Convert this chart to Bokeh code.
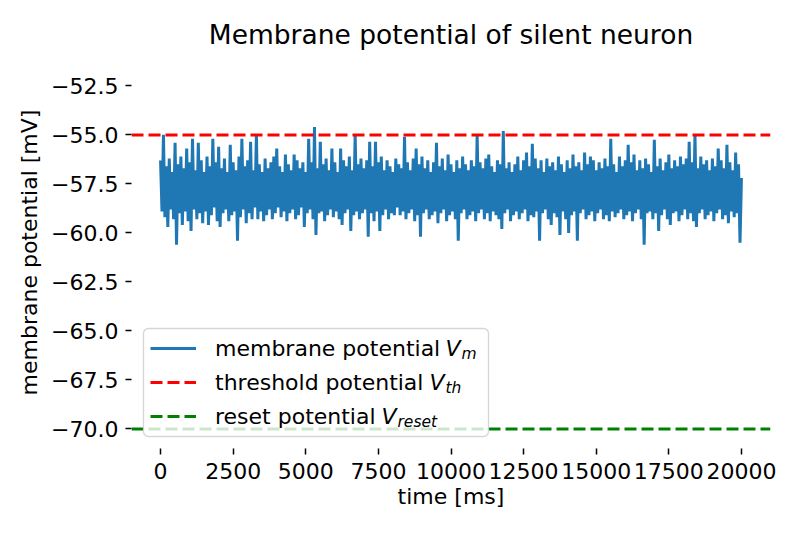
import numpy as np
from bokeh.plotting import figure
from bokeh.models import (Range1d, FixedTicker, CustomJSTickFormatter, Legend,
                          LegendItem, Label, BoxAnnotation)
from bokeh.embed import file_html
from bokeh.resources import INLINE

# ---------------- data ----------------
title_text = "Membrane potential of silent neuron"
x_label = "time [ms]"
y_label = "membrane potential [mV]"

dt_ms = 50  # spacing between consecutive read-off samples

# upper excursions of the trace (every 100 ms, t = 0 .. 20000)
v_high = [
    -56.3, -55.0, -56.6, -56.2, -56.9, -55.4, -56.5, -56.1, -56.7, -55.7,
    -56.4, -55.2, -56.8, -55.4, -56.3, -56.9, -56.1, -56.6, -55.2, -56.4,
    -55.6, -56.7, -56.2, -56.9, -55.5, -56.4, -56.8, -56.1, -55.2, -56.6,
    -56.3, -55.35, -56.8, -54.95, -56.5, -56.9, -56.2, -56.7, -56.4, -56.1,
    -55.7, -56.6, -56.9, -56.0, -56.5, -56.8, -56.0, -56.3, -56.7, -56.4,
    -56.9, -55.2, -56.4, -54.6, -56.7, -55.35, -56.5, -56.2, -56.8, -55.7,
    -56.4, -56.9, -55.7, -56.3, -56.6, -56.1, -56.8, -55.0, -56.5, -56.2,
    -56.7, -56.3, -55.35, -56.6, -55.35, -56.4, -56.1, -56.8, -56.3, -56.6,
    -56.9, -56.2, -56.5, -56.7, -55.1, -56.4, -56.8, -56.2, -55.7, -56.5,
    -56.1, -56.7, -56.3, -56.9, -56.4, -55.4, -56.6, -56.2, -56.8, -56.0,
    -56.5, -56.9, -56.3, -56.7, -56.1, -56.5, -56.8, -56.3, -56.6, -54.95,
    -56.4, -56.7, -56.2, -56.0, -56.6, -56.9, -56.3, -56.5, -54.8, -56.7,
    -56.4, -56.9, -56.5, -56.1, -56.8, -56.3, -55.9, -56.6, -55.45, -56.2,
    -56.7, -56.3, -56.9, -56.2, -56.6, -56.4, -56.8, -56.1, -56.5, -56.9,
    -56.3, -56.7, -56.0, -56.6, -56.4, -56.8, -55.9, -56.5, -56.1, -56.3,
    -56.8, -56.4, -56.7, -56.2, -56.6, -55.2, -56.5, -56.9, -56.1, -56.6,
    -56.3, -55.5, -56.4, -56.0, -56.8, -56.3, -56.7, -56.2, -56.5, -56.9,
    -55.25, -56.6, -56.2, -56.8, -56.4, -56.0, -56.7, -56.3, -56.6, -56.1,
    -56.5, -56.2, -55.35, -56.4, -54.95, -56.7, -56.1, -56.5, -56.3, -56.8,
    -56.2, -56.6, -55.7, -56.3, -56.7, -55.5, -56.4, -56.8, -55.9, -56.5,
    -57.2,
]

# lower excursions of the trace (every 100 ms, t = 50 .. 19950)
v_low = [
    -58.9, -59.2, -59.7, -58.8, -59.3, -60.6, -59.0, -59.6, -58.9, -59.4,
    -59.9, -58.8, -59.3, -59.0, -59.5, -58.9, -59.6, -59.1, -58.7, -59.4,
    -59.7, -59.0, -58.8, -59.4, -59.1, -58.9, -60.4, -59.2, -58.8, -59.5,
    -59.0, -59.3, -58.7, -59.3, -58.9, -59.4, -59.1, -58.8, -59.3, -59.0,
    -58.7, -59.2, -58.9, -59.4, -59.0, -58.8, -59.3, -59.1, -58.7, -59.7,
    -59.0, -58.8, -59.3, -60.1, -59.0, -58.9, -59.4, -59.1, -58.8, -59.2,
    -58.9, -59.3, -59.6, -59.0, -58.8, -59.9, -59.1, -58.9, -59.3, -59.0,
    -58.8, -60.2, -59.0, -59.4, -58.9, -59.9, -59.1, -58.8, -59.3, -59.0,
    -59.1, -58.7, -59.1, -58.9, -59.3, -59.0, -58.8, -59.4, -59.1, -60.2,
    -59.0, -58.8, -59.3, -59.1, -58.9, -59.5, -59.0, -58.8, -59.4, -59.1,
    -58.9, -59.3, -60.4, -59.0, -58.8, -59.3, -59.1, -58.9, -59.4, -59.0,
    -58.8, -59.3, -59.0, -59.4, -58.9, -59.1, -59.3, -59.8, -59.0, -58.8,
    -59.4, -59.1, -58.9, -59.3, -59.0, -58.8, -59.4, -59.1, -59.2, -58.9,
    -60.4, -59.0, -58.8, -59.3, -59.6, -59.0, -59.2, -60.1, -58.9, -59.3,
    -60.0, -59.1, -58.9, -60.4, -59.0, -58.8, -59.3, -59.1, -58.9, -59.4,
    -59.0, -58.8, -59.3, -59.1, -59.4, -58.9, -59.2, -59.0, -58.8, -59.3,
    -59.1, -58.9, -59.4, -59.0, -58.8, -59.3, -60.6, -59.0, -58.9, -59.3,
    -59.0, -59.9, -59.1, -58.8, -59.3, -59.6, -59.0, -58.9, -59.4, -59.1,
    -58.8, -59.3, -59.0, -59.4, -59.7, -59.0, -58.8, -59.3, -59.1, -58.9,
    -59.4, -59.0, -58.8, -59.3, -59.1, -59.5, -58.9, -59.2, -59.0, -60.5,
]

v_threshold = -55.0
v_reset = -70.0

x_ticks = [0, 2500, 5000, 7500, 10000, 12500, 15000, 17500, 20000]
y_ticks = [-70.0, -67.5, -65.0, -62.5, -60.0, -57.5, -55.0, -52.5]

legend_labels = ["membrane potential", "threshold potential", "reset potential"]
legend_subscripts = ["m", "th", "reset"]

# ---------------- build series ----------------
vm = []
for h, l in zip(v_high, v_low):
    vm += [h, l]
vm.append(v_high[-1])
t = [i * dt_ms for i in range(len(vm))]

FONT = "DejaVu Sans"
BLUE = "#1f77b4"
FS = "22px"

x_range = Range1d(-1000, 21000)
y_range = Range1d(-71.0, -51.0)

p = figure(width=792, height=525, output_backend="svg", toolbar_location=None,
           x_range=x_range, y_range=y_range, title=title_text,
           min_border_left=131, min_border_right=22,
           min_border_top=56, min_border_bottom=77)

p.background_fill_color = "white"
p.border_fill_color = "white"
p.outline_line_color = None
p.grid.visible = False

p.title.text_font = FONT
p.title.text_font_size = "26.5px"
p.title.text_font_style = "normal"
p.title.align = "center"
p.title.text_color = "black"
p.title.standoff = 13

for ax in (p.xaxis[0], p.yaxis[0]):
    ax.axis_line_color = None
    ax.major_tick_in = 0
    ax.major_tick_out = 6
    ax.major_tick_line_width = 1.5
    ax.major_tick_line_color = "black"
    ax.minor_tick_line_color = None
    ax.major_label_text_font = FONT
    ax.major_label_text_font_size = FS
    ax.major_label_text_color = "black"
    ax.axis_label_text_font = FONT
    ax.axis_label_text_font_size = FS
    ax.axis_label_text_font_style = "normal"
    ax.axis_label_text_color = "black"

p.xaxis.major_label_standoff = 8
p.yaxis.major_label_standoff = 7
p.xaxis.ticker = FixedTicker(ticks=x_ticks)
p.yaxis.ticker = FixedTicker(ticks=y_ticks)
p.xaxis.formatter = CustomJSTickFormatter(code="return tick.toFixed(0);")
p.yaxis.formatter = CustomJSTickFormatter(
    code="return tick.toFixed(1).replace('-', '\\u2212');")
p.xaxis.axis_label = x_label
p.yaxis.axis_label = y_label
p.xaxis.axis_label_standoff = 2
p.yaxis.axis_label_standoff = 6

r_vm = p.line(t, vm, line_color=BLUE, line_width=3.0)
span_x = [x_range.start, x_range.end]
r_th = p.line(span_x, [v_threshold, v_threshold], line_color="red",
              line_width=3.0, line_dash="12 5")
r_reset = p.line(span_x, [v_reset, v_reset], line_color="green",
                 line_width=3.0, line_dash="12 5")

# legend frame (semi-transparent white box), drawn beneath the legend entries
box = BoxAnnotation(left=12, right=357, bottom=12, top=120,
                    left_units="screen", right_units="screen",
                    bottom_units="screen", top_units="screen",
                    fill_color="white", fill_alpha=0.8,
                    line_color="#cccccc", line_alpha=0.8, line_width=1.3,
                    level="annotation", propagate_hover=False)
if "border_radius" in BoxAnnotation.properties():
    box.border_radius = 5
p.add_layout(box)

items = [LegendItem(label=lab, renderers=[r])
         for lab, r in zip(legend_labels, [r_vm, r_th, r_reset])]
legend = Legend(items=items, location="bottom_left", margin=12, padding=7,
                spacing=8, glyph_height=26, glyph_width=46, label_height=26,
                label_width=266, label_standoff=19,
                label_text_font=FONT, label_text_font_size=FS,
                label_text_color="black",
                background_fill_alpha=0.0,
                border_line_color="#cccccc", border_line_alpha=0.0)
p.add_layout(legend)

# italic V with subscripts after the legend labels (screen units, frame based)
row_y = [100, 66, 32]
v_x = [314, 298, 250]
sub_x = [330, 314, 266]
for vy, vx, sx, sub in zip(row_y, v_x, sub_x, legend_subscripts):
    p.add_layout(Label(x=vx, y=vy, x_units="screen", y_units="screen", text="V",
                       text_font=FONT, text_font_style="italic",
                       text_font_size=FS, text_baseline="middle",
                       text_align="left", text_color="black", level="overlay"))
    p.add_layout(Label(x=sx, y=vy - 5.5, x_units="screen", y_units="screen",
                       text=sub, text_font=FONT, text_font_style="italic",
                       text_font_size="15.5px", text_baseline="middle",
                       text_align="left", text_color="black", level="overlay"))

open("out.html", "w").write(file_html(p, INLINE))
